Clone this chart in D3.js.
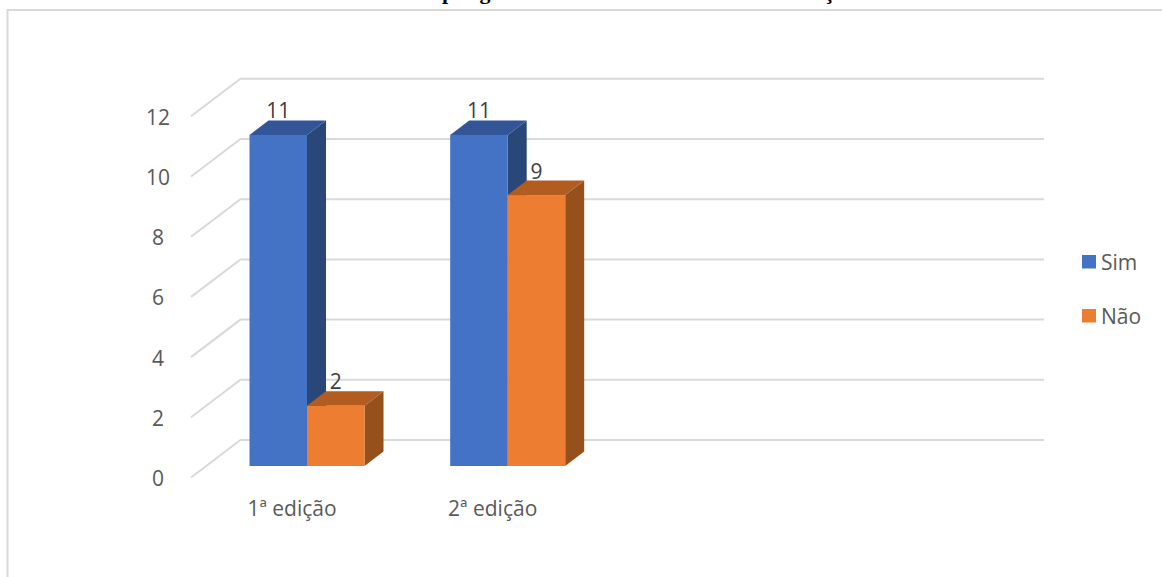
<!DOCTYPE html>
<html><head><meta charset="utf-8">
<script src="https://cdn.jsdelivr.net/npm/d3@7"></script>
<style>
html,body{margin:0;padding:0;background:#fff;overflow:hidden}
svg{display:block}
text{font-family:"Open Sans",sans-serif}
</style></head><body><svg width="1162" height="577"></svg>
<script>
const categories = ["1ª edição","2ª edição"];
const seriesNames = ["Sim","Não"];
const simValues = [11,11];
const naoValues = [2,9];
const yTicks = [0,2,4,6,8,10,12];
const titleText = "Adesão ao programa nas turmas da 1ª e 2ª edição";
const colors = {Sim:{front:"#4472c4",top:"#325597",side:"#2a4779"},Não:{front:"#ed7d31",top:"#b35c20",side:"#96501b"}};

const svg = d3.select("svg");
const dx = 19, dy = -14.5;
const floorY = 466;
const y = d3.scaleLinear().domain([0,12]).range([floorY, floorY-361.2]);
const x = d3.scalePoint().domain(categories).range([307,507.7]);
const barW = 57.5;
const fs = "21px";

// title clipped by the top edge, as in the reference
const title = svg.append("text").attr("x",0).attr("y",-1.5)
  .style("font-family","'Liberation Serif',serif").style("font-weight","700").style("font-size","22px").style("letter-spacing","1.6px").attr("fill","#000").text(titleText);
const pAt = title.node().getStartPositionOfChar(titleText.indexOf("p")).x;
title.attr("x",447-5-pAt);

// frame
svg.append("path").attr("d",d3.line()([[7.5,577],[7.5,10],[1162,10]])).attr("fill","none").attr("stroke","#d9d9d9").attr("stroke-width",2);

// gridlines
const wallX0 = 240.5, wallX1 = 1044, frontX = 191, wallDy = -26;
yTicks.forEach(t=>{
  const yb = y(t)+wallDy;
  svg.append("path").attr("d",d3.line()([[frontX,yb+37.5],[wallX0,yb],[wallX1,yb]]))
    .attr("fill","none").attr("stroke","#d9d9d9").attr("stroke-width",2);
  svg.append("text").attr("x",158).attr("y",y(t)+20).attr("text-anchor","middle")
    .attr("fill","#595959").style("font-size",fs).text(t);
});

function bar(cx, value, c, sign){
  const x0 = sign<0 ? cx-barW : cx, x1 = x0+barW, yt = y(value), yb = y(0);
  const g = svg.append("g");
  g.append("path").attr("d",d3.line()([[x1,yb],[x1+dx,yb+dy],[x1+dx,yt+dy],[x1,yt]])).attr("fill",c.side);
  g.append("path").attr("d",d3.line()([[x0,yt],[x0+dx,yt+dy],[x1+dx,yt+dy],[x1,yt]])).attr("fill",c.top);
  g.append("rect").attr("x",x0).attr("y",yt).attr("width",barW).attr("height",yb-yt).attr("fill",c.front);
  g.append("text").attr("x",(x0+x1)/2).attr("y",yt+dy-2).attr("text-anchor","middle")
    .attr("fill","#404040").style("font-size",fs).text(value);
}
categories.forEach((cat,i)=>{
  bar(x(cat), simValues[i], colors.Sim, -1);
  bar(x(cat), naoValues[i], colors["Não"], 1);
  svg.append("text").attr("x",x(cat)-15).attr("y",516).attr("text-anchor","middle")
    .attr("fill","#595959").style("font-size",fs).text(cat);
});

// legend
seriesNames.forEach((s,i)=>{
  const ly = 255+i*54;
  svg.append("rect").attr("x",1082).attr("y",ly).attr("width",14).attr("height",13.5).attr("fill",colors[s].front);
  svg.append("text").attr("x",1101).attr("y",ly+15).attr("fill","#595959").style("font-size",fs).text(s);
});
</script></body></html>
